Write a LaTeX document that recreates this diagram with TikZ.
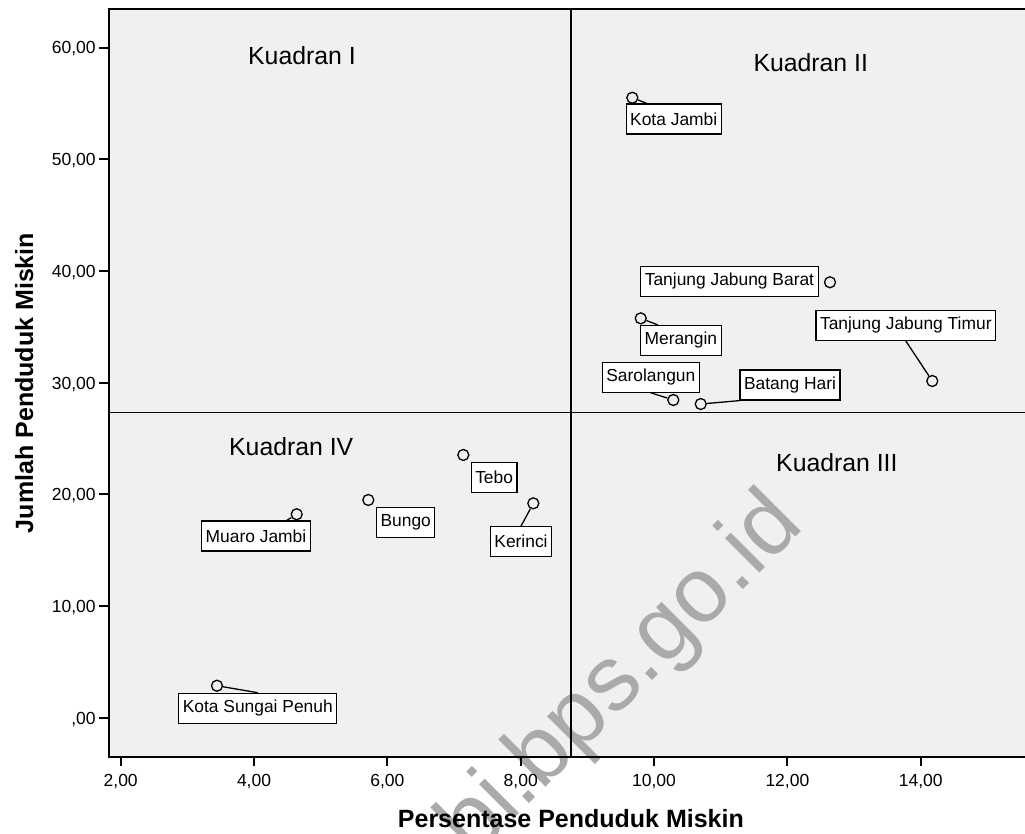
\documentclass[tikz,border=0pt]{standalone}
\usepackage{fontspec}
\setmainfont{Liberation Sans}
\usetikzlibrary{calc}
\definecolor{plotbg}{HTML}{F0F0F0}
\definecolor{wmark}{HTML}{AAAAAA}
\newcommand{\fsz}[1]{\fontsize{#1}{#1}\selectfont}

\tikzset{
  obs/.style={draw, circle, inner sep=0pt, minimum size=11pt, line width=1.3pt},
  lbl/.style={draw, fill=white, line width=1.2pt, inner xsep=4pt, inner ysep=0pt,
    minimum height=30pt, font=\fsz{17.4}},
  quad/.style={anchor=base west, inner sep=0pt, font=\fsz{24.8}},
  tickline/.style={line width=2pt},
  ticklab/.style={inner sep=0pt, font=\fsz{17.5}},
  divider/.style={line width=1.4pt},
  leader/.style={line width=1.3pt}
}

\begin{document}
\begin{tikzpicture}[x=1pt, y=1pt]
\useasboundingbox (0,0) rectangle (1025,833);
% plot area
\fill[plotbg] (108.5,76) rectangle (1025,823.5);
\node[rotate=45, anchor=base east, inner sep=0pt, text=wmark, font=\fsz{92}] (wm) at (806,306) {jambi.bps.go.id};

\begin{scope}[shift={(-12.64pt,115.1pt)}, x=66.67pt, y=11.17pt]
  % quadrant borders
  \draw[divider] (8.755,-3.5) -- (8.755,63.42);
  \draw[divider] (1.817,27.32) -- (15.7,27.32);

  % kabupaten / kota
  \node[obs] (kj) at (9.674,55.52) {};
  \node[obs] (tjb) at (12.639,39.0) {};
  \node[obs] (mer) at (9.80,35.77) {};
  \node[obs] (tjt) at (14.173,30.16) {};
  \node[obs] (sar) at (10.289,28.46) {};
  \node[obs] (bh) at (10.70,28.10) {};
  \node[obs] (teb) at (7.139,23.54) {};
  \node[obs] (bun) at (5.714,19.51) {};
  \node[obs] (mj) at (4.64,18.23) {};
  \node[obs] (ker) at (8.189,19.21) {};
  \node[obs] (ksp) at (3.444,2.88) {};

  \node[lbl] (kjL) at (10.295,53.62) {Kota Jambi};
  \node[lbl] (tjbL) at (11.131,39.10) {Tanjung Jabung Barat};
  \node[lbl] (merL) at (10.402,33.79) {Merangin};
  \node[lbl] (tjtL) at (13.776,35.14) {Tanjung Jabung Timur};
  \node[lbl] (sarL) at (9.952,30.50) {Sarolangun};
  \node[lbl] (bhL) at (12.039,29.80) {Batang Hari};
  \node[lbl] (tebL) at (7.601,21.54) {Tebo};
  \node[lbl] (bunL) at (6.275,17.48) {Bungo};
  \node[lbl] (mjL) at (4.029,16.28) {Muaro Jambi};
  \node[lbl] (kerL) at (8.004,15.77) {Kerinci};
  \node[lbl] (kspL) at (4.056,0.86) {Kota Sungai Penuh};

  \draw[leader] (kj) -- (kjL.150);
  \draw[leader] (mer) -- (merL.146);
  \draw[leader] (tjt) -- (tjtL.south);
  \draw[leader] (sar) -- (sarL.south);
  \draw[leader] (bh) -- (bhL.south west);
  \draw[leader] (mj) -- (mjL.27);
  \draw[leader] (ker) -- (kerL.north);
  \draw[leader] (ksp) -- (kspL.north);

  % axes ticks
  \foreach \w in {0,10,...,60}
    \draw[tickline] (1.817,\w) -- ++(-10pt,0)
      node[ticklab, anchor=base east, xshift=-1.8pt, yshift=-6.3pt] {\ifnum\w=0 \else\w\fi,00};
  \foreach \v in {2,4,...,14}
    \draw[tickline] (\v,-3.5) -- ++(0,-9pt)
      node[ticklab, anchor=base, yshift=-20.7pt] {\v,00};
\end{scope}

% frame
\draw[line width=2pt] (1025,823.5) -| (108.5,76) -- (1025,76);

\node[quad] (q1) at (248,768) {Kuadran I};
\node[quad] (q2) at (753.3,761.3) {Kuadran II};
\node[quad] (q3) at (776,361.2) {Kuadran III};
\node[quad] (q4) at (229,377) {Kuadran IV};

\node[anchor=base, inner sep=0pt, font=\fsz{25}\bfseries] (xt) at (570.9,5.7) {Persentase Penduduk Miskin};
\node[anchor=base, inner sep=0pt, rotate=90, font=\fsz{25}\bfseries] (yt) at (33,450) {Jumlah Penduduk Miskin};
\end{tikzpicture}
\end{document}
